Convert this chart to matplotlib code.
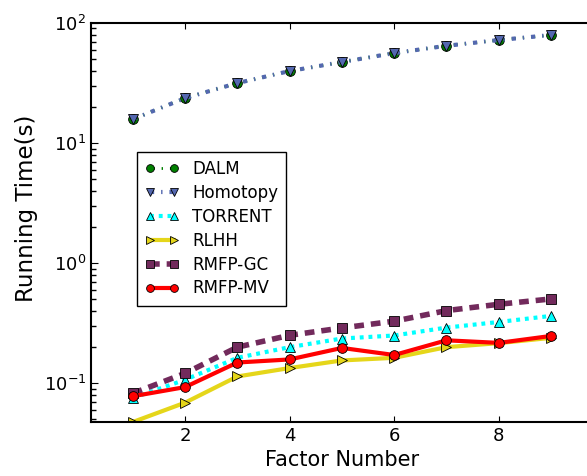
import numpy as np
import matplotlib
matplotlib.use('Agg')
import matplotlib.pyplot as plt

factors = [1, 2, 3, 4, 5, 6, 7, 8, 9]

dalm = [15.8, 23.7, 31.6, 39.8, 47.3, 56.2, 64.6, 72.1, 79.4]
homotopy = [15.8, 23.7, 31.6, 39.8, 47.3, 56.2, 64.6, 72.1, 79.4]
torrent = [0.0755, 0.107, 0.163, 0.200, 0.236, 0.250, 0.291, 0.324, 0.364]
rlhh = [0.0476, 0.069, 0.114, 0.134, 0.155, 0.163, 0.200, 0.216, 0.239]
rmfp_gc = [0.0825, 0.121, 0.200, 0.251, 0.289, 0.329, 0.403, 0.455, 0.504]
rmfp_mv = [0.078, 0.093, 0.149, 0.158, 0.197, 0.172, 0.228, 0.217, 0.248]

plt.rcParams['font.family'] = 'DejaVu Sans'
plt.rcParams['xtick.direction'] = 'in'
plt.rcParams['ytick.direction'] = 'in'
plt.rcParams['xtick.top'] = True
plt.rcParams['ytick.right'] = False
plt.rcParams['xtick.major.size'] = 4
plt.rcParams['ytick.major.size'] = 5
plt.rcParams['ytick.minor.size'] = 3.5
plt.rcParams['ytick.minor.width'] = 1
plt.rcParams['axes.linewidth'] = 1.5
plt.rcParams['lines.scale_dashes'] = False

fig = plt.figure(figsize=(5.87, 4.76), dpi=100)
ax = fig.add_axes([0.155, 0.1134, 0.855, 0.8383])

ax.plot(factors, dalm, color='green', lw=2, dashes=(3, 5, 1, 5), marker='o',
        ms=7, mec='black', mew=0.6, label='DALM')
ax.plot(factors, homotopy, color='#5468b0', lw=3, dashes=(3, 5, 1, 5),
        marker='v', ms=7, mec='black', mew=0.6, label='Homotopy')
ax.plot(factors, torrent, color='cyan', lw=3, dashes=(2.8, 3.5), marker='^',
        ms=7, mec='black', mew=0.6, label='TORRENT')
ax.plot(factors, rlhh, '-', color='#e5d61a', lw=3, marker='>', ms=7,
        mec='black', mew=0.6, label='RLHH')
ax.plot(factors, rmfp_gc, color='#722a5c', lw=4, dashes=(7, 5), marker='s',
        ms=7, mec='black', mew=0.6, label='RMFP-GC')
ax.plot(factors, rmfp_mv, '-', color='red', lw=3, marker='o', ms=7,
        mec='black', mew=0.6, label='RMFP-MV')

ax.set_yscale('log')
ax.set_ylim(0.0476, 100)
ax.set_xlim(0.2, 9.8)
ax.set_xticks([2, 4, 6, 8])
ax.tick_params(labelsize=13)
ax.set_xlabel('Factor Number', fontsize=15)
ax.set_ylabel('Running Time(s)', fontsize=16.5)
ax.yaxis.set_label_coords(-0.105, 0.535)

leg = ax.legend(loc='upper left', bbox_to_anchor=(0.092, 0.677), fontsize=12,
                numpoints=2, handlelength=2, fancybox=False, framealpha=1,
                borderpad=0.5, labelspacing=0.35, markerscale=0.8,
                borderaxespad=0)
leg.get_frame().set_edgecolor('black')
leg.get_frame().set_linewidth(1)

fig.savefig('out.png', dpi=100)
